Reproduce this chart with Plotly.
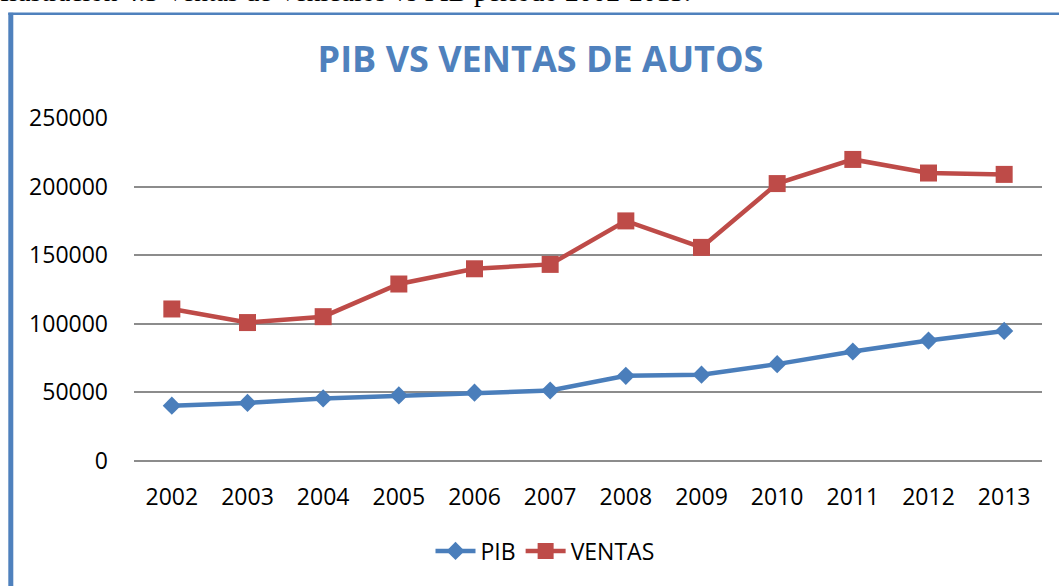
import plotly.graph_objects as go

years = ["2002", "2003", "2004", "2005", "2006", "2007", "2008", "2009", "2010", "2011", "2012", "2013"]
pib = [40300, 42300, 45600, 47800, 49800, 51400, 62100, 62900, 70600, 79800, 87800, 94800]
ventas = [110800, 100900, 105200, 129000, 140100, 143300, 175000, 155700, 202200, 219800, 209900, 208900]
y_ticks = [0, 50000, 100000, 150000, 200000, 250000]

BLUE = "#4A7EBB"
RED = "#BE4B48"
TITLE_BLUE = "#4F81BD"
FONT = "Open Sans"

W, H = 1059, 586
L, R, T, B = 134, 17, 117.5, 124.5
pw, ph = W - L - R, H - T - B

def px_x(p):
    return (p - L) / pw

def px_y(p):
    return (H - B - p) / ph

fig = go.Figure()
fig.add_trace(go.Scatter(
    x=years, y=pib, name="PIB", mode="lines+markers",
    line=dict(color=BLUE, width=4.5),
    marker=dict(symbol="diamond", size=14, color=BLUE),
))
fig.add_trace(go.Scatter(
    x=years, y=ventas, name="VENTAS", mode="lines+markers",
    line=dict(color=RED, width=4.5),
    marker=dict(symbol="square", size=17, color=RED),
))

fig.update_layout(
    width=W, height=H,
    margin=dict(l=L, r=R, t=T, b=B, autoexpand=False),
    paper_bgcolor="white", plot_bgcolor="white",
    font=dict(family=FONT, size=23, color="black"),
    title=dict(
        text="<b>PIB VS VENTAS DE AUTOS</b>",
        font=dict(family=FONT, size=36, color=TITLE_BLUE),
        x=540.5 / W, xref="container", xanchor="center",
        y=1 - 59 / H, yref="container", yanchor="middle",
    ),
    showlegend=True,
    legend=dict(
        orientation="h", x=545 / W, xref="container", xanchor="center",
        y=1 - 551 / H, yref="container", yanchor="middle",
        font=dict(family=FONT, size=23, color="black"),
        itemwidth=40, traceorder="normal",
    ),
    xaxis=dict(
        type="category", showgrid=False, showline=False, ticks="",
        ticklabelstandoff=20, tickfont=dict(size=23),
        range=[-0.5, len(years) - 0.5],
    ),
    yaxis=dict(
        range=[0, 250000], tickvals=y_ticks, ticktext=[str(v) for v in y_ticks],
        showgrid=True, gridcolor="#8C8C8C", gridwidth=2,
        zeroline=True, zerolinecolor="#8C8C8C", zerolinewidth=2,
        showline=False, ticks="", ticklabelstandoff=25, tickfont=dict(size=23),
    ),
)

# blue chart frame (left and top edges)
fig.add_shape(type="line", xref="paper", yref="paper",
              x0=px_x(10.8), x1=px_x(10.8), y0=px_y(12), y1=px_y(H + 5),
              line=dict(color=TITLE_BLUE, width=5), layer="above")
fig.add_shape(type="line", xref="paper", yref="paper",
              x0=px_x(8.3), x1=px_x(W + 5), y0=px_y(13), y1=px_y(13),
              line=dict(color=TITLE_BLUE, width=2.5), layer="above")

# cropped caption above the chart
fig.add_annotation(
    text="Ilustración 4.3 Ventas de Vehículos vs PIB periodo 2002-2013.",
    xref="paper", yref="paper", x=px_x(-2), y=px_y(-9.5), xanchor="left", yanchor="middle",
    showarrow=False, font=dict(family="Liberation Serif", size=27.5, color="black"),
)

fig.write_html("out.html", config={"displayModeBar": False},
               post_script="document.body.style.margin='0px';")
